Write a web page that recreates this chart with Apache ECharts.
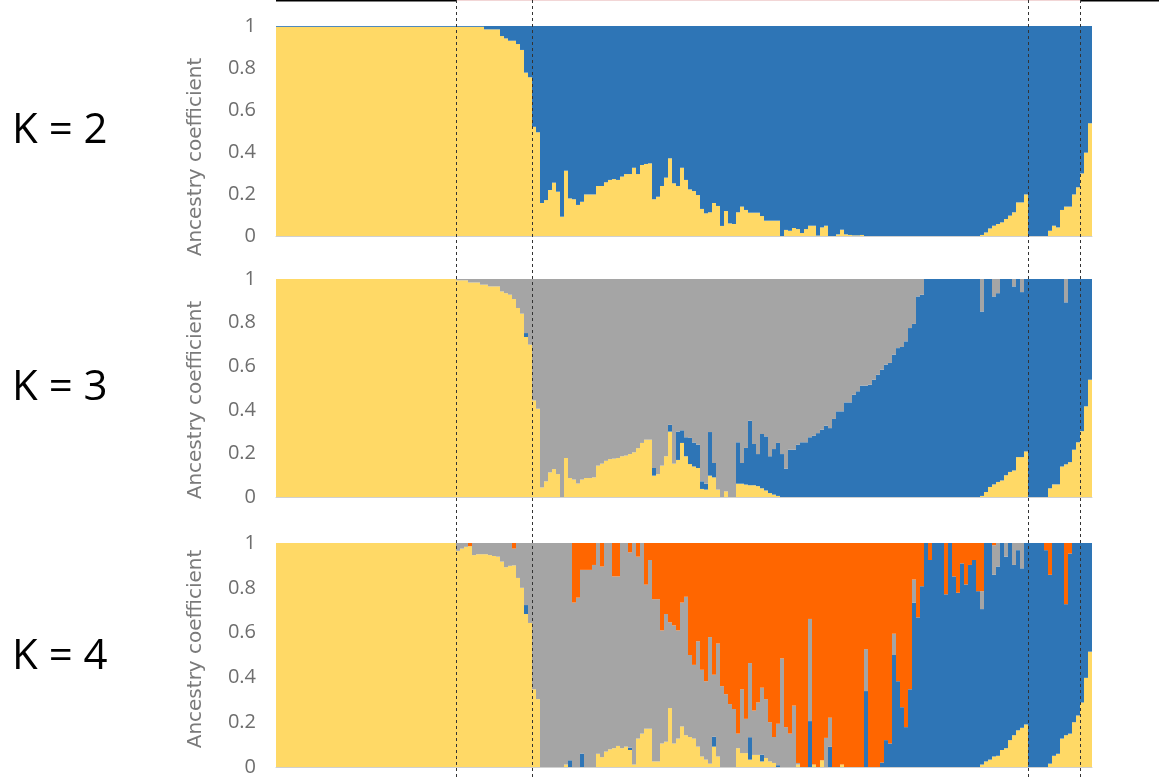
<!DOCTYPE html>
<html><head><meta charset="utf-8">
<script src="https://cdn.jsdelivr.net/npm/echarts@6/dist/echarts.min.js"></script>
<style>html,body{margin:0;padding:0;background:#fff}#c{width:1159px;height:777px}</style>
</head><body><div id="c"></div>
<script>
// ---- data (204 individuals) ----
const k2Yellow = [
0.996,0.996,0.996,0.996,0.996,0.996,0.996,0.996,0.996,0.996,
0.996,0.996,0.996,0.996,0.996,0.996,0.996,0.996,0.996,0.996,
0.996,0.996,0.996,0.996,0.996,0.996,0.996,0.996,0.996,0.996,
0.996,0.996,0.996,0.996,0.996,0.996,0.996,0.996,0.996,0.996,
0.996,0.996,0.996,0.996,0.996,0.996,0.996,0.996,0.996,0.996,
0.996,0.996,0.984,0.984,0.984,0.984,0.952,0.941,0.93,0.93,
0.914,0.886,0.778,0.756,0.52,0.494,0.157,0.171,0.219,0.254,
0.211,0.092,0.311,0.179,0.175,0.148,0.163,0.198,0.198,0.198,
0.238,0.238,0.256,0.267,0.271,0.267,0.283,0.295,0.295,0.325,
0.295,0.338,0.343,0.346,0.175,0.187,0.238,0.278,0.37,0.251,
0.238,0.325,0.267,0.222,0.214,0.195,0.129,0.108,0.113,0.157,
0.143,0.048,0.119,0.06,0.057,0.113,0.14,0.124,0.111,0.111,
0.111,0.095,0.073,0.073,0.073,0.073,0,0.029,0.025,0.038,
0.033,0.014,0.033,0.049,0.049,0.002,0.041,0.049,0,0,
0.008,0.03,0.008,0.005,0.003,0.003,0.005,0,0,0,
0,0,0,0,0,0,0,0,0,0,
0,0,0,0,0,0,0,0,0,0,
0,0,0,0,0,0,0.005,0.017,0.036,0.049,
0.057,0.065,0.081,0.097,0.113,0.16,0.16,0.198,0,0,
0,0,0,0.025,0.049,0.041,0.124,0.14,0.14,0.198,
0.232,0.298,0.397,0.537];

const k3Yellow = [
1,1,1,1,1,1,1,1,1,1,
1,1,1,1,1,1,1,1,1,1,
1,1,1,1,1,1,1,1,1,1,
1,1,1,1,1,1,1,1,1,1,
1,1,1,1,1,0.994,0.994,0.994,0.984,0.984,
0.984,0.974,0.974,0.966,0.966,0.966,0.943,0.935,0.928,0.908,
0.867,0.841,0.734,0.699,0.443,0.405,0.044,0.072,0.113,0.128,
0.105,0,0.179,0.087,0.08,0.062,0.08,0.087,0.087,0.09,
0.144,0.153,0.166,0.174,0.176,0.179,0.187,0.19,0.197,0.205,
0.224,0.248,0.263,0.263,0.098,0.105,0.144,0.187,0.3,0.153,
0.17,0.248,0.187,0.151,0.14,0.133,0.037,0.034,0.098,0.09,
0.034,0,0.026,0,0,0.061,0.061,0.057,0.054,0.054,
0.05,0.04,0.03,0.018,0.011,0.005,0,0,0,0,
0,0,0,0,0,0,0,0,0,0,
0,0,0,0,0,0,0,0,0,0,
0,0,0,0,0,0,0,0,0,0,
0,0,0,0,0,0,0,0,0,0,
0,0,0,0,0,0,0.005,0.023,0.046,0.058,
0.069,0.076,0.1,0.115,0.122,0.183,0.183,0.209,0,0,
0,0,0,0.04,0.058,0.058,0.14,0.15,0.16,0.217,
0.251,0.302,0.416,0.538];

const k3Blue = [
0,0,0,0,0,0,0,0,0,0,
0,0,0,0,0,0,0,0,0,0,
0,0,0,0,0,0,0,0,0,0,
0,0,0,0,0,0,0,0,0,0,
0,0,0,0,0,0,0,0,0,0,
0,0,0,0,0,0,0,0,0,0,
0,0,0.018,0,0,0,0,0,0,0,
0,0,0,0,0,0,0,0,0,0,
0,0,0,0,0,0,0,0,0,0,
0,0,0,0,0.035,0,0,0,0.031,0,
0.13,0.058,0.087,0.12,0.11,0.107,0.035,0.027,0.2,0.066,
0,0,0,0,0,0.19,0.095,0.168,0.296,0.189,
0.147,0.249,0.248,0.169,0.209,0.243,0.197,0.13,0.217,0.217,
0.24,0.251,0.251,0.274,0.281,0.293,0.309,0.327,0.316,0.358,
0.393,0.393,0.434,0.434,0.469,0.485,0.511,0.511,0.515,0.538,
0.561,0.584,0.607,0.615,0.653,0.683,0.688,0.714,0.775,0.794,
0.92,0.928,1,1,1,1,1,1,1,1,
1,1,1,1,1,1,0.846,0.977,0.954,0.862,
0.866,0.924,0.9,0.885,0.844,0.817,0.757,0.791,1,1,
1,1,1,0.96,0.942,0.942,0.86,0.743,0.84,0.783,
0.749,0.698,0.584,0.462];

const k4Yellow = [
1,1,1,1,1,1,1,1,1,1,
1,1,1,1,1,1,1,1,1,1,
1,1,1,1,1,1,1,1,1,1,
1,1,1,1,1,1,1,1,1,1,
1,1,1,1,1,0.965,0.975,0.983,0.986,0.946,
0.95,0.95,0.95,0.946,0.942,0.939,0.917,0.892,0.898,0.9,
0.844,0.8,0.683,0.643,0.347,0.303,0,0,0,0,
0,0,0.011,0,0,0,0,0,0,0,
0.059,0.044,0.069,0.079,0.084,0.094,0.084,0.091,0.076,0.011,
0.127,0.149,0.171,0.171,0.025,0.025,0.105,0.113,0.263,0.105,
0.127,0.181,0.142,0.134,0.127,0.091,0.047,0.033,0.015,0.091,
0.047,0,0,0,0,0.084,0.062,0.062,0.033,0.054,
0.054,0.025,0.04,0.025,0.018,0,0,0,0,0,
0.011,0,0,0,0.011,0,0.03,0,0,0,
0,0.011,0,0,0,0,0,0,0,0,
0,0,0,0,0,0,0,0,0,0,
0,0,0,0,0,0,0,0,0,0,
0,0,0,0,0,0,0.011,0.025,0.033,0.047,
0.05,0.076,0.084,0.12,0.142,0.164,0.175,0.19,0,0,
0,0,0,0.015,0.05,0.059,0.127,0.142,0.149,0.2,
0.23,0.288,0.398,0.515];

const k4Blue = [
0,0,0,0,0,0,0,0,0,0,
0,0,0,0,0,0,0,0,0,0,
0,0,0,0,0,0,0,0,0,0,
0,0,0,0,0,0,0,0,0,0,
0,0,0,0,0,0,0,0,0,0,
0,0,0,0,0,0,0,0,0,0,
0,0,0.04,0,0,0,0,0,0,0,
0,0,0,0.03,0,0,0.06,0,0,0,
0,0,0,0,0,0,0,0,0.01,0,
0,0,0,0,0,0,0,0,0,0,
0,0,0,0,0,0,0,0,0,0.044,
0,0,0,0,0,0,0,0,0.1,0,
0,0.03,0,0,0,0.008,0,0,0,0,
0,0,0,0.205,0,0,0,0,0.09,0,
0,0,0,0,0,0,0,0.339,0,0,
0,0.02,0.12,0.105,0.5,0.383,0.267,0.178,0.347,0.734,
0.668,0.807,1,0.924,1,1,1,0.771,1,0.851,
0.778,0.909,0.815,0.902,0.924,0.785,0.694,0.975,0.967,0.811,
0.845,0.924,0.855,0.88,0.76,0.804,0.712,0.81,1,1,
1,1,0.968,0.843,0.95,0.941,0.873,0.585,0.804,0.8,
0.77,0.712,0.602,0.485];

const k4Grey = [
0,0,0,0,0,0,0,0,0,0,
0,0,0,0,0,0,0,0,0,0,
0,0,0,0,0,0,0,0,0,0,
0,0,0,0,0,0,0,0,0,0,
0,0,0,0,0,0.035,0.025,0.017,0,0.054,
0.05,0.05,0.05,0.054,0.058,0.061,0.083,0.108,0.102,0.075,
0.156,0.2,0.277,0.357,0.653,0.697,1,1,1,1,
1,1,0.989,0.97,0.734,0.756,0.82,0.88,0.88,0.902,
0.941,0.851,0.931,0.921,0.767,0.757,0.916,0.909,0.872,0.989,
0.812,0.851,0.643,0.753,0.724,0.724,0.505,0.57,0.383,0.527,
0.483,0.553,0.618,0.366,0.329,0.47,0.387,0.35,0.565,0.277,
0.504,0.361,0.325,0.281,0.259,0.065,0.285,0.153,0.331,0.198,
0.234,0.299,0.263,0.175,0.116,0.185,0.485,0.178,0.149,0.274,
0.007,0,0,0.456,0,0,0,0.13,0.13,0,
0,0,0,0,0,0,0,0.187,0,0,
0,0,0,0,0.095,0,0,0,0,0.103,
0,0,0,0,0,0,0,0,0,0,
0,0,0,0,0,0,0.08,0,0,0.132,
0.105,0,0.061,0,0.098,0.032,0.113,0,0,0,
0,0,0,0,0,0,0,0,0,0,
0,0,0,0];

const yTicks = [0, 0.2, 0.4, 0.6, 0.8, 1];
const panelLabels = ['K = 2', 'K = 3', 'K = 4'];
const separators = [45, 64, 188, 201]; // population boundaries (bar index)

// ---- chart ----
const N = k2Yellow.length;
const individuals = Array.from({length: N}, (_, i) => String(i + 1));
const C = {yellow: '#FFD966', blue: '#2E75B6', grey: '#A5A5A5', orange: '#FF6600'};
const rest = (...arrs) => individuals.map((_, i) => Math.max(0, +(1 - arrs.reduce((s, a) => s + a[i], 0)).toFixed(4)));

const grids = [
  {left: 276, width: 816, top: 26, height: 210},
  {left: 276, width: 816, top: 279, height: 218},
  {left: 276, width: 816, top: 543, height: 228}
];
// shift of the rotated axis name along the axis (positive = down)
const nameShift = [26, 12, -6];
const panels = [
  [['yellow', k2Yellow], ['blue', rest(k2Yellow)]],
  [['yellow', k3Yellow], ['blue', k3Blue], ['grey', rest(k3Yellow, k3Blue)]],
  [['yellow', k4Yellow], ['blue', k4Blue], ['grey', k4Grey], ['orange', rest(k4Yellow, k4Blue, k4Grey)]]
];

const series = [];
panels.forEach((p, gi) => p.forEach(([col, data]) => series.push({
  type: 'bar', stack: 'k' + gi, xAxisIndex: gi, yAxisIndex: gi, data,
  barCategoryGap: '0%', itemStyle: {color: C[col]}, silent: true
})));

const chart = echarts.init(document.getElementById('c'), null, {renderer: 'canvas'});
chart.setOption({
  animation: false,
  grid: grids.map(g => Object.assign({containLabel: false}, g)),
  xAxis: grids.map((g, gi) => ({
    type: 'category', gridIndex: gi, data: individuals,
    axisLine: {show: true, lineStyle: {color: '#d0d0d0', width: 1}},
    axisTick: {show: false}, axisLabel: {show: false}, splitLine: {show: false}
  })),
  yAxis: grids.map((g, gi) => ({
    type: 'value', gridIndex: gi, min: yTicks[0], max: yTicks[yTicks.length - 1], interval: 0.2,
    splitLine: {show: false}, axisLine: {show: false}, axisTick: {show: false},
    axisLabel: {color: '#6e6e6e', fontSize: 20, fontFamily: 'Open Sans', margin: 20},
    name: 'Ancestry coefficient', nameLocation: 'middle', nameGap: 70,
    nameTextStyle: {color: '#7a7a7a', fontSize: 20, fontFamily: 'DejaVu Sans',
      padding: nameShift[gi] >= 0 ? [0, 2 * nameShift[gi], 0, 0] : [0, 0, 0, -2 * nameShift[gi]]}
  })),
  series
});

const bw = grids[0].width / N;
const xs = separators.map(s => chart.convertToPixel({xAxisIndex: 0}, s) - bw / 2);
const graphic = [];
const x0 = chart.convertToPixel({xAxisIndex: 0}, 0) - bw / 2;
graphic.push({type: 'line', shape: {x1: x0, y1: 0.75, x2: xs[0], y2: 0.75}, style: {stroke: '#000', lineWidth: 1.5}, silent: true});
graphic.push({type: 'line', shape: {x1: xs[0], y1: 0.5, x2: xs[3], y2: 0.5}, style: {stroke: '#f2d6d6', lineWidth: 1}, silent: true});
graphic.push({type: 'line', shape: {x1: xs[3], y1: 0.75, x2: 1159, y2: 0.75}, style: {stroke: '#000', lineWidth: 1.5}, silent: true});
xs.forEach(x => graphic.push({type: 'line', z: 100, shape: {x1: Math.round(x) + 0.5, y1: 0, x2: Math.round(x) + 0.5, y2: 777},
  style: {stroke: '#333', lineWidth: 1, lineDash: [3, 3]}, silent: true}));
grids.forEach((g, gi) => graphic.push({type: 'text', z: 100, silent: true,
  style: {text: panelLabels[gi], x: 12, y: g.top + g.height / 2, verticalAlign: 'middle',
    font: '42px "Open Sans"', fill: '#000'}}));
chart.setOption({graphic});
</script>
</body></html>
